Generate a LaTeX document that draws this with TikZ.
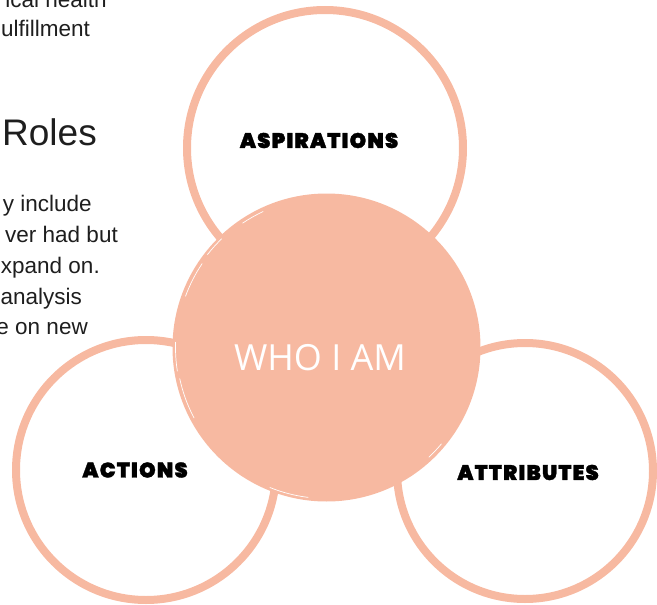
\documentclass[tikz,border=0pt]{standalone}
\usepackage{fontspec}
\setmainfont{Liberation Sans}
\newfontfamily\bodyfont{Liberation Sans}
\newfontfamily\headfont{Open Sans}
\newfontfamily\labelfont{Poppins Black}[LetterSpace=6, FakeBold=1.5]
\definecolor{peach}{HTML}{F7B9A1}
\definecolor{ink}{HTML}{1E1E1E}
\tikzset{
  ring/.style={draw=peach, line width=8pt},
  hub/.style={fill=peach},
  brush/.style={draw=white, line width=0.7pt, line cap=round},
  tag/.style={font=\labelfont\fontsize{21}{21}\selectfont, text=black, inner sep=0pt},
  body/.style={font=\bodyfont\fontsize{22.5}{22.5}\selectfont, text=ink, inner sep=0pt, anchor=base east},
}
\begin{document}
\begin{tikzpicture}[x=1pt, y=-1pt]
\useasboundingbox (0,0) rectangle (657,605);

% partly hidden text column on the left
\node[body] (t1) at (107,7) {ical health};
\node[body] (t2) at (90,37) {ulfillment};
\node[body, font=\bodyfont\fontsize{37}{37}\selectfont] (t3) at (97,145) {Roles};
\node[body] (t4) at (92,211) {y include};
\node[body] (t5) at (118,242) {ver had but};
\node[body] (t6) at (100,273) {xpand on.};
\node[body] (t7) at (82,304) {analysis};
\node[body] (t8) at (88,334) {e on new};

% outline circles
\coordinate (asp) at (325,148);
\coordinate (act) at (146,470);
\coordinate (att) at (525,471);
\draw[ring] (asp) circle[radius=138];
\draw[ring] (act) circle[radius=130];
\draw[ring] (att) circle[radius=128];

% central disc with a brushed rim
\coordinate (who) at (326.5,347.5);
\fill[hub] (who) circle[radius=154];
\draw[brush] (who) ++(152:150) arc[start angle=152, end angle=168, radius=150];
\draw[brush] (who) ++(171:151) arc[start angle=171, end angle=182, radius=151];
\draw[brush] (who) ++(200:150) arc[start angle=200, end angle=214, radius=150];
\draw[brush] (who) ++(218:151) arc[start angle=218, end angle=226, radius=151];
\draw[brush] (who) ++(97:151) arc[start angle=97, end angle=112, radius=151];
\draw[brush] (who) ++(47:150) arc[start angle=47, end angle=40, radius=150];
\draw[brush] (who) ++(236:150) arc[start angle=236, end angle=245, radius=150];

% labels
\node[font=\headfont\fontsize{36}{36}\selectfont, text=white, inner sep=0pt] (whoami) at (320,358) {WHO I AM};
\node[tag] (aspl) at (319,140.5) {ASPIRATIONS};
\node[tag] (actl) at (135,470) {ACTIONS};
\node[tag] (attl) at (528,472.5) {ATTRIBUTES};
\end{tikzpicture}
\end{document}
